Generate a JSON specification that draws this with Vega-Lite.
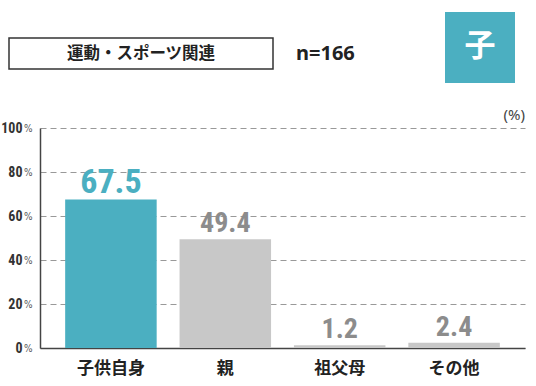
{
  "$schema": "https://vega.github.io/schema/vega-lite/v6.json",
  "width": 485,
  "height": 220,
  "autosize": {"type": "none"},
  "padding": {"left": 40, "top": 128, "right": 11, "bottom": 38},
  "background": "#ffffff",
  "config": {"view": {"stroke": null}},
  "data": {"values": [
    {"cat": "子供自身", "v": 67.5, "hl": "yes"},
    {"cat": "親", "v": 49.4, "hl": "no"},
    {"cat": "祖父母", "v": 1.2, "hl": "no"},
    {"cat": "その他", "v": 2.4, "hl": "no"}
  ]},
  "resolve": {"axis": {"y": "independent"}, "scale": {"color": "independent", "size": "independent"}},
  "layer": [
    {
      "mark": {"type": "bar"},
      "encoding": {
        "x": {"field": "cat", "type": "nominal", "sort": null,
          "scale": {"paddingInner": 0.2, "paddingOuter": 0.22},
          "axis": {"title": null, "labelAngle": 0, "ticks": false, "domain": true, "domainColor": "#444", "domainWidth": 1.5,
            "labelFont": "Noto Sans CJK JP", "labelFontWeight": "bold", "labelFontSize": 17, "labelColor": "#222", "labelPadding": 12}},
        "y": {"field": "v", "type": "quantitative",
          "scale": {"domain": [0, 100], "nice": false},
          "axis": {"title": null, "orient": "left", "values": [0, 20, 40, 60, 80, 100], "ticks": false,
            "domain": true, "domainColor": "#444", "domainWidth": 1.5,
            "grid": true, "gridDash": [6, 4], "gridColor": "#999", "gridWidth": 1,
            "labelExpr": "datum.value", "labelFont": "Roboto Condensed, Liberation Sans Narrow, Arial Narrow, DejaVu Sans Condensed, sans-serif", "labelFontWeight": "bold", "labelFontSize": 14, "labelColor": "#333", "labelPadding": 18}},
        "color": {"field": "hl", "type": "nominal", "legend": null,
          "scale": {"domain": ["yes", "no"], "range": ["#4bafc1", "#c8c8c8"]}}
      }
    },
    {
      "mark": {"type": "text", "baseline": "alphabetic", "dy": -7, "font": "Roboto Condensed, Liberation Sans Narrow, Arial Narrow, DejaVu Sans Condensed, sans-serif", "fontWeight": "bold"},
      "encoding": {
        "x": {"field": "cat", "type": "nominal", "sort": null},
        "y": {"field": "v", "type": "quantitative",
          "axis": {"title": null, "orient": "left", "values": [0, 20, 40, 60, 80, 100], "ticks": false, "domain": false, "grid": false,
            "labelExpr": "'%'", "labelFont": "DejaVu Sans Condensed", "labelFontSize": 10, "labelColor": "#555", "labelPadding": 8}},
        "text": {"field": "v", "type": "quantitative", "format": ".1f"},
        "size": {"field": "hl", "type": "nominal", "legend": null, "scale": {"domain": ["yes", "no"], "range": [34, 28]}},
        "color": {"field": "hl", "type": "nominal", "legend": null,
          "scale": {"domain": ["yes", "no"], "range": ["#4bafc1", "#8c8c8c"]}}
      }
    },
    {
      "data": {"values": [{}]},
      "mark": {"type": "rect", "fill": "#ffffff", "stroke": "#333", "strokeWidth": 1.5},
      "encoding": {"x": {"value": -31}, "x2": {"value": 233}, "y": {"value": -90}, "y2": {"value": -59}}
    },
    {
      "data": {"values": [{}]},
      "mark": {"type": "text", "text": "運動・スポーツ関連", "font": "Noto Sans CJK JP", "fontWeight": "bold", "fontSize": 16.5, "color": "#222", "align": "center", "baseline": "middle"},
      "encoding": {"x": {"value": 101}, "y": {"value": -74}}
    },
    {
      "data": {"values": [{}]},
      "mark": {"type": "text", "text": "n=166", "font": "Noto Sans", "fontWeight": "bold", "fontSize": 20, "color": "#222", "align": "left", "baseline": "middle"},
      "encoding": {"x": {"value": 256}, "y": {"value": -74}}
    },
    {
      "data": {"values": [{}]},
      "mark": {"type": "rect", "fill": "#4bafc1"},
      "encoding": {"x": {"value": 405}, "x2": {"value": 475}, "y": {"value": -116}, "y2": {"value": -45}}
    },
    {
      "data": {"values": [{}]},
      "mark": {"type": "text", "text": "子", "font": "Noto Sans CJK JP", "fontWeight": "bold", "fontSize": 31, "color": "#ffffff", "align": "center", "baseline": "middle"},
      "encoding": {"x": {"value": 440}, "y": {"value": -81}}
    },
    {
      "data": {"values": [{}]},
      "mark": {"type": "text", "text": "(%)", "font": "Noto Sans", "fontSize": 15, "color": "#444", "align": "right", "baseline": "middle"},
      "encoding": {"x": {"value": 485}, "y": {"value": -13}}
    }
  ]
}
